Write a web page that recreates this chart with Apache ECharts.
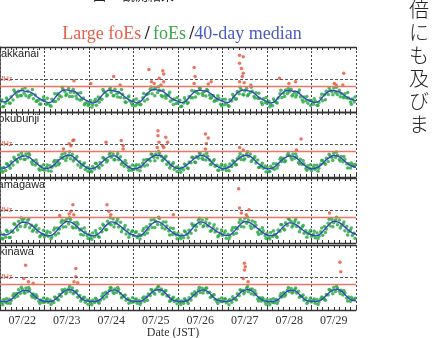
<!DOCTYPE html>
<html><head><meta charset="utf-8">
<script src="https://cdn.jsdelivr.net/npm/echarts@6/dist/echarts.min.js"></script>
<style>html,body{margin:0;padding:0;background:#fff;}#c{width:434px;height:338px;}</style>
</head><body><div id="c"></div>
<script>
const days = ['07/22','07/23','07/24','07/25','07/26','07/27','07/28','07/29'];
const stations = ['Wakkanai','Kokubunji','Yamagawa','Okinawa'];
const thresholdMHz = 8;
const gridMHz = 10;

// 40-day median, every 2 hours from 07/22 00:00 (JST)
const medianWakkanai = [
3.6,3.1,3.4,4.5,5.7,6.4,6.6,6.3,6.2,5.6,4.6,3.9,
3.3,2.9,3.2,4.6,5.9,6.7,6.8,6.5,6.4,5.5,4.4,3.7,
3.2,2.8,3.1,4.4,5.8,6.6,6.7,6.4,6.2,5.3,4.3,3.6,
3.2,2.8,3.3,4.7,6.0,6.8,6.9,6.6,6.3,5.4,4.4,3.7,
3.3,2.9,3.2,4.5,5.8,6.6,6.7,6.5,6.3,5.5,4.5,3.8,
3.3,2.9,3.2,4.6,5.9,6.6,6.8,6.5,6.2,5.3,4.3,3.7,
3.2,2.8,3.1,4.4,5.7,6.5,6.6,6.4,6.3,5.4,4.4,3.7,
3.2,2.9,3.3,4.6,5.8,6.5,6.6,6.3,5.9,5.0,4.3,3.8,3.5];
const medianKokubunji = [
2.8,2.7,3.1,4.1,5.1,5.9,6.4,6.5,6.0,5.0,4.0,3.2,
2.6,2.7,3.2,4.2,5.3,6.1,6.6,6.6,6.0,4.9,3.9,3.1,
2.5,2.6,3.1,4.0,5.1,6.0,6.5,6.5,5.8,4.7,3.7,2.9,
2.5,2.7,3.2,4.3,5.4,6.2,6.7,6.7,6.0,4.9,3.8,3.0,
2.6,2.8,3.3,4.3,5.3,6.1,6.6,6.5,5.8,4.7,3.7,3.0,
2.5,2.7,3.2,4.2,5.3,6.1,6.6,6.6,5.9,4.8,3.8,3.0,
2.5,2.6,3.1,4.1,5.2,6.0,6.5,6.4,5.8,4.7,3.7,2.9,
2.5,2.7,3.2,4.2,5.3,6.1,6.6,6.5,5.8,4.8,3.9,3.3,3.0];
const medianYamagawa = [
2.8,2.5,2.6,3.3,4.5,5.7,6.4,6.4,5.9,5.0,4.0,3.1,
2.5,2.2,2.4,3.4,4.7,5.9,6.6,6.5,5.8,4.8,3.8,3.0,
2.5,2.2,2.4,3.2,4.6,5.8,6.5,6.3,5.6,4.7,3.7,2.9,
2.4,2.1,2.3,3.3,4.7,5.9,6.6,6.4,5.7,4.7,3.7,2.9,
2.4,2.2,2.4,3.3,4.6,5.8,6.5,6.3,5.5,4.7,3.9,3.2,
2.6,2.3,2.5,3.4,4.7,5.9,6.6,6.4,5.8,4.9,4.0,3.1,
2.5,2.3,2.4,3.3,4.5,5.6,6.2,6.1,5.5,4.6,3.7,3.0,
2.5,2.2,2.5,3.5,4.8,6.0,6.7,6.5,5.9,4.9,3.9,3.1,2.7];
const medianOkinawa = [
2.8,2.6,2.7,3.2,4.3,5.3,5.9,6.1,5.7,4.6,3.6,3.0,
2.7,2.6,2.7,3.3,4.4,5.5,6.1,6.3,5.8,4.7,3.5,2.9,
2.7,2.6,2.7,3.2,4.3,5.4,6.0,6.2,5.7,4.6,3.5,2.9,
2.7,2.6,2.7,3.3,4.4,5.5,6.1,6.3,5.8,4.7,3.5,2.9,
2.7,2.6,2.7,3.2,4.3,5.4,6.0,6.2,5.7,4.6,3.5,2.9,
2.7,2.6,2.8,3.3,4.4,5.5,6.1,6.3,5.8,4.7,3.6,2.9,
2.7,2.6,2.7,3.2,4.3,5.4,6.0,6.1,5.6,4.5,3.4,2.8,
2.7,2.6,2.8,3.4,4.5,5.6,6.2,6.4,5.9,4.8,3.6,3.0,2.8];

// hourly foEs from 07/22 00:00 (JST)
const foEsWakkanai = [
3.0,3.7,1.7,2.7,3.7,2.8,4.7,3.7,6.2,5.3,6.4,5.1,7.0,5.8,5.0,6.5,5.1,5.4,4.1,5.2,3.5,3.7,2.5,3.7,
3.6,2.3,2.6,2.0,3.9,3.2,3.2,5.6,5.1,4.7,7.0,6.2,5.5,7.2,6.1,4.8,6.0,4.9,5.8,3.7,3.8,4.3,2.7,3.0,
2.4,3.5,2.3,3.3,2.1,4.6,4.0,3.9,6.4,5.9,5.2,6.9,6.0,5.0,7.0,5.6,6.0,4.5,5.5,4.3,3.0,4.5,3.4,2.6,
3.7,1.9,2.5,3.2,2.3,4.4,3.4,5.4,5.6,6.9,5.6,7.1,7.5,6.0,6.7,5.1,6.7,5.0,5.1,5.3,3.3,3.8,4.0,2.6,
2.8,3.6,1.8,2.8,3.6,2.6,4.8,4.4,4.4,6.4,6.1,5.6,7.3,5.7,6.2,4.9,6.6,5.2,4.4,5.1,3.6,3.6,4.2,2.4,
3.9,2.2,2.7,2.0,3.8,3.4,4.6,3.9,6.3,5.6,6.9,5.4,6.5,7.3,5.4,6.0,6.4,4.8,5.9,4.2,4.2,2.9,4.1,2.9,
2.6,3.3,2.3,1.9,3.5,2.9,4.3,5.6,4.5,5.8,6.8,5.7,6.2,7.0,5.3,6.1,5.3,6.1,4.7,3.7,4.6,3.5,2.7,3.6,
3.5,2.4,3.3,2.1,2.9,4.3,3.5,5.3,6.4,5.4,6.7,6.3,7.4,6.0,5.4,6.7,5.7,4.6,5.6,4.3,4.3,3.1,4.0,3.1];
const foEsKokubunji = [
3.0,2.0,2.9,2.0,3.9,3.4,4.7,3.7,5.5,5.1,6.8,5.6,6.6,5.5,7.1,5.9,6.8,4.6,5.0,3.7,4.3,2.5,3.3,2.4,
2.1,2.9,1.9,3.5,3.0,4.6,3.5,5.1,4.2,6.1,5.7,7.3,5.9,6.8,5.6,7.0,5.4,5.7,3.7,4.7,3.6,4.0,2.3,3.0,
2.8,1.8,3.2,2.5,4.1,3.1,4.5,3.6,5.8,5.4,5.1,7.0,6.1,7.1,5.3,6.5,5.3,6.2,4.5,3.3,4.2,2.9,3.1,2.1,
2.3,3.2,2.2,3.7,3.1,4.2,3.4,5.4,5.4,5.0,6.9,6.1,7.1,5.9,7.3,6.4,5.4,6.0,3.9,4.6,3.4,3.9,2.4,3.0,
3.1,2.2,2.8,2.2,3.8,2.8,4.6,4.4,6.0,4.6,6.2,5.8,7.2,5.8,6.8,5.2,6.4,5.2,4.0,4.9,3.3,3.6,2.1,3.2,
2.2,3.1,2.0,3.1,4.0,3.2,4.8,3.8,5.6,6.3,5.4,6.6,5.6,7.1,6.3,7.1,5.2,5.8,4.3,5.2,3.0,3.5,2.7,3.4,
2.9,1.7,3.3,2.6,2.4,4.1,3.6,5.5,4.8,5.8,5.0,6.8,6.6,5.9,7.1,5.8,6.2,4.5,5.5,3.9,4.0,2.6,3.5,2.6,
2.0,3.0,2.4,3.6,2.7,3.9,5.1,4.3,5.8,4.8,6.5,6.0,7.3,6.0,6.7,5.4,6.3,4.7,5.4,4.1,4.1,2.8,3.8,3.3];
const foEsYamagawa = [
3.2,1.5,2.6,1.8,3.5,1.7,3.7,3.3,5.8,4.9,6.6,5.1,6.9,7.5,5.8,7.0,4.7,5.5,4.0,5.0,3.4,4.4,2.4,2.6,
1.9,2.9,2.1,3.2,1.9,4.0,2.5,4.6,4.3,6.4,4.9,6.8,7.4,5.9,7.2,4.9,6.2,4.7,5.8,4.0,4.3,2.5,3.4,2.3,
2.8,1.7,3.1,1.9,3.0,2.0,4.5,3.5,5.3,4.1,6.7,5.9,5.6,7.4,6.0,6.7,4.9,6.4,4.3,4.6,2.8,4.0,2.7,3.5,
2.2,3.2,1.7,2.6,2.3,3.8,2.6,5.0,4.2,5.8,4.8,7.2,6.7,5.7,7.6,5.6,6.5,4.3,5.2,3.7,4.6,2.6,3.2,2.5,
3.1,1.9,2.5,1.6,3.4,2.6,3.9,3.0,5.4,5.5,5.0,7.0,5.9,7.1,5.3,6.5,5.2,6.1,3.9,4.8,3.4,4.3,2.3,3.1,
2.4,3.1,1.5,2.7,2.0,3.9,2.7,4.8,4.4,6.3,5.1,6.6,7.6,6.1,7.0,5.2,6.8,4.9,5.5,3.3,4.1,2.9,3.8,2.2,
3.0,1.8,3.2,2.0,2.7,2.1,4.0,3.6,5.6,4.3,6.2,5.5,7.2,6.6,5.5,6.6,5.1,6.2,4.3,4.9,3.0,3.8,2.8,3.3,
2.1,2.7,1.6,3.1,2.1,3.5,2.4,5.1,4.3,6.1,5.3,7.3,6.2,7.1,5.6,7.1,5.2,5.8,3.8,5.1,3.5,4.0,2.3,3.0];
const foEsOkinawa = [
3.1,2.2,3.2,2.4,2.1,3.3,2.9,4.4,3.8,5.1,6.2,5.1,6.4,5.3,6.8,5.7,6.2,4.5,4.9,3.6,4.1,2.7,3.1,2.4,
2.4,3.1,2.3,3.1,2.6,2.3,3.8,3.3,4.8,4.2,5.7,6.4,5.5,6.5,5.6,6.8,5.4,5.6,3.9,4.5,3.3,3.8,2.4,3.1,
3.0,2.1,3.0,2.3,3.3,2.5,3.0,4.2,3.5,5.5,5.1,6.1,6.8,5.5,6.5,5.5,6.3,5.0,4.0,4.4,3.0,3.5,3.0,2.4,
2.5,3.2,2.1,2.9,2.3,3.6,2.7,4.0,4.9,4.5,6.1,5.2,6.3,7.0,5.8,6.5,4.9,5.8,4.3,4.5,2.9,3.6,2.6,3.0,
3.3,2.4,2.8,2.1,3.1,2.7,3.8,3.1,4.6,5.6,4.9,6.2,5.4,6.7,6.0,6.7,5.3,5.5,4.1,4.6,3.2,2.6,3.3,2.6,
2.6,3.3,2.2,2.8,3.2,2.4,3.5,3.4,5.0,4.4,6.0,6.0,5.6,6.8,5.6,6.4,6.5,4.7,5.0,3.4,3.8,2.8,3.4,2.5,
3.2,2.3,3.2,2.3,2.2,3.2,2.8,4.3,4.0,5.4,4.8,6.1,5.7,6.6,5.5,6.3,5.2,5.8,4.2,4.2,3.0,3.7,2.5,3.1,
2.5,3.0,2.1,3.2,2.5,3.4,3.8,3.3,4.8,4.6,6.1,5.9,6.9,5.7,6.8,5.8,6.1,4.6,5.3,3.7,4.0,2.7,3.2,3.2];

// extra foEs soundings at 01:30, 03:30, ... 23:30 each day
const foEsWakkanaiHalf = [
1.6,4.3,2.7,6.8,4.7,5.0,7.4,4.5,6.9,3.2,2.4,4.6,
4.2,1.8,5.6,4.0,7.6,5.1,4.8,7.0,4.1,5.9,2.2,2.0,
1.5,3.9,3.0,6.9,4.9,7.5,5.0,4.6,6.9,3.1,4.9,2.1,
4.0,2.2,5.7,3.9,7.7,5.0,7.8,4.7,4.2,6.1,2.3,4.4,
1.7,4.4,2.9,6.6,4.6,7.4,5.1,6.9,4.2,3.2,5.0,1.9,
3.9,1.8,5.4,4.1,7.6,5.2,5.0,7.6,4.3,5.8,2.3,4.5,
1.6,4.0,2.8,6.7,4.8,7.2,4.9,4.6,6.8,3.1,4.8,2.0,
4.1,2.0,5.5,3.8,7.5,5.3,7.6,4.7,4.4,6.0,2.4,4.6];
const foEsKokubunjiHalf = [
1.5,4.1,2.7,6.1,4.6,7.5,5.4,7.3,3.9,5.2,2.1,3.8,
3.7,1.8,5.1,3.8,7.0,5.1,7.8,4.9,6.3,2.9,4.3,1.8,
1.6,4.2,2.8,6.0,4.6,7.6,5.3,7.2,3.9,5.1,2.0,3.7,
3.8,1.9,5.2,3.7,7.1,5.0,7.9,5.0,6.4,2.8,4.4,1.7,
1.5,4.0,2.6,6.1,4.5,7.4,5.4,7.3,3.8,5.3,2.1,3.9,
3.7,1.9,5.0,3.8,7.2,5.2,7.8,4.8,6.2,2.9,4.2,1.6,
1.7,4.1,2.8,5.9,4.7,7.5,5.3,7.1,4.0,5.0,2.1,3.8,
3.6,1.8,5.1,3.9,7.0,5.1,7.7,4.9,6.3,2.8,4.3,3.9];
const foEsYamagawaHalf = [
1.2,3.9,1.7,5.9,4.0,7.7,5.0,7.5,3.6,5.5,1.9,3.9,
3.6,1.3,4.6,3.0,7.0,5.0,7.8,4.6,6.4,2.6,4.6,1.4,
1.1,3.8,1.8,5.8,4.1,7.8,4.9,7.4,3.5,5.4,1.8,3.8,
3.5,1.2,4.5,3.1,7.1,4.8,7.9,4.7,6.5,2.5,4.5,1.3,
1.3,3.7,1.6,5.9,3.9,7.6,5.0,7.5,3.6,5.6,1.9,4.0,
3.7,1.2,4.7,3.0,7.2,4.9,8.0,4.5,6.4,2.6,4.7,1.4,
1.2,3.8,1.7,5.7,4.0,7.5,4.9,7.3,3.5,5.4,1.8,3.9,
3.6,1.3,4.6,3.2,7.3,5.0,7.9,4.6,6.5,2.5,4.6,1.5];
const foEsOkinawaHalf = [
1.6,3.5,2.0,5.0,4.2,7.0,5.2,6.9,3.9,4.7,2.0,3.7,
3.5,1.7,4.0,3.1,6.2,5.0,7.2,5.0,5.9,2.8,3.9,1.8,
1.6,3.6,2.1,5.1,4.1,6.9,5.1,6.9,3.8,4.6,2.1,3.8,
3.4,1.7,4.0,3.0,6.3,4.9,7.3,4.9,6.0,2.7,3.9,1.9,
1.7,3.5,2.0,5.0,4.3,7.0,5.2,6.8,3.9,4.7,2.0,3.7,
3.5,1.6,4.1,3.1,6.2,5.0,7.2,5.0,5.9,2.8,3.8,1.8,
1.6,3.5,2.0,5.1,4.2,6.9,5.2,6.8,3.9,4.6,2.0,3.7,
3.4,1.7,4.0,3.0,6.3,5.0,7.4,5.0,6.0,2.8,3.9,3.6];

// large foEs events: [hours from 07/22 00:00, MHz]
const largeWakkanai = [[39.9,9.6],[49,8.8],[61.3,10.9],[64.8,8.3],[80.3,13.1],[81.7,9.3],[83.2,8.8],[85.9,10.4],[87.8,12.7],[88.3,11.7],[88.3,9.3],[86.8,8.3],[104.7,13.7],[105.2,10.9],[104.7,8.8],[112.3,8.6],[113.9,9.3],[129.2,17.5],[131.2,17.0],[129.2,15.0],[130.2,13.4],[131.2,11.9],[130.7,10.9],[129.2,9.3],[131.7,9.0],[135.3,8.3],[150.7,10.4],[155.8,8.8],[159.4,9.3],[180.3,8.8],[185.4,11.9],[184.9,8.3],[181.3,8.3]];
const largeKokubunji = [[34.2,8.6],[37.3,10.2],[39.3,11.2],[39.8,11.4],[38.3,9.6],[57.2,10.7],[65.4,11.2],[66.4,9.6],[66.4,8.6],[85.2,14.2],[85.2,12.7],[85.8,10.7],[87.8,9.6],[89.4,12.2],[90.4,10.7],[88.3,9.1],[84.8,9.1],[110.8,13.2],[112.3,12.0],[111.3,10.2],[110.8,8.6],[129.2,9.1],[131.2,8.3],[162.4,11.7],[159.9,8.3]];
const largeYamagawa = [[32.2,8.5],[39.3,11.8],[38.3,9.8],[39.8,8.7],[37.3,8.9],[57.7,11.8],[58.7,9.8],[59.8,8.7],[93.5,8.7],[128.7,16.7],[129.2,10.8],[130.2,9.2],[132.8,8.7],[134.3,10.2],[177.7,9.2]];
const largeOkinawa = [[13.8,13.8],[12.8,9.7],[15.3,8.7],[17.9,8.2],[40.9,12.8],[40.9,10.2],[39.9,8.7],[41.9,8.4],[131.8,14.4],[132.3,13.3],[131.8,12.3],[131.2,9.7],[133.8,8.7],[183.3,14.7],[183.8,11.8]];

const medians = [medianWakkanai, medianKokubunji, medianYamagawa, medianOkinawa];
const foEsAll = [foEsWakkanai, foEsKokubunji, foEsYamagawa, foEsOkinawa];
const foEsHalfAll = [foEsWakkanaiHalf, foEsKokubunjiHalf, foEsYamagawaHalf, foEsOkinawaHalf];
const largeAll = [largeWakkanai, largeKokubunji, largeYamagawa, largeOkinawa];

const RED = '#e8503a', GREEN = '#22a83e', BLUE = '#3446bc';
const panelTops = [47, 112, 178, 245];
const panelH = 65;
const hoursTotal = days.length * 24;

const grids = [], xAxes = [], yAxes = [], series = [], graphics = [];
panelTops.forEach((top, i) => {
  grids.push({left: -20, right: 78, top: top, height: panelH});
  const tickBase = {
    gridIndex: i, type: 'value', min: 0, max: hoursTotal, interval: 24,
    axisLine: {show: true, lineStyle: {color: '#333', width: 1.3}},
    axisTick: {show: true, inside: true, length: 3, lineStyle: {color: '#333'}},
    minorTick: {show: true, splitNumber: 8, length: 3, lineStyle: {color: '#333'}},
    axisLabel: {show: false}
  };
  xAxes.push(Object.assign({}, tickBase, {position: 'bottom',
    splitLine: {show: true, lineStyle: {color: '#444', type: [2, 2], width: 1}}}));
  xAxes.push(Object.assign({}, tickBase, {position: 'top', splitLine: {show: false}}));
  yAxes.push({gridIndex: i, type: 'value', min: 0, max: 20, interval: 5, position: 'right',
    axisLine: {show: true, lineStyle: {color: '#444', width: 1.5}},
    axisTick: {show: true, inside: true, length: 4, lineStyle: {color: '#444'}},
    axisLabel: {show: false}, splitLine: {show: false}});
  series.push({type: 'scatter', xAxisIndex: i * 2, yAxisIndex: i, z: 2,
    data: foEsAll[i].map((v, k) => [k, v]), symbolSize: 3.5,
    itemStyle: {color: GREEN}});
  series.push({type: 'scatter', xAxisIndex: i * 2, yAxisIndex: i, z: 2,
    data: foEsHalfAll[i].map((v, k) => [k * 2 + 1.5, v]), symbolSize: 3.5,
    itemStyle: {color: GREEN}});
  series.push({type: 'line', xAxisIndex: i * 2, yAxisIndex: i, z: 3,
    data: medians[i].map((v, k) => [k * 2, v]), smooth: 0.3, showSymbol: false,
    lineStyle: {color: BLUE, width: 1.4},
    markLine: {silent: true, symbol: 'none', label: {show: false}, animation: false,
      data: [
        {yAxis: thresholdMHz, lineStyle: {color: '#ef7565', type: 'solid', width: 1.3}},
        {yAxis: gridMHz, lineStyle: {color: '#555', type: [3, 2], width: 1}}
      ]}});
  series.push({type: 'scatter', xAxisIndex: i * 2, yAxisIndex: i, z: 4,
    data: largeAll[i], symbolSize: 3.5, itemStyle: {color: RED}});
  graphics.push({type: 'text', left: -9, top: top + 1,
    style: {text: stations[i], font: '11px "Liberation Sans", Arial, sans-serif', fill: '#222'}});
  graphics.push({type: 'text', left: -6, top: top + 29,
    style: {text: '8MHz', font: '7px "Liberation Sans", Arial, sans-serif', fill: RED}});
});
// date labels (centred on each day)
xAxes.push({gridIndex: 3, type: 'category', data: days, boundaryGap: true, position: 'bottom',
  axisLine: {show: false}, axisTick: {show: false}, splitLine: {show: false},
  axisLabel: {show: true, margin: 5, fontFamily: '"Liberation Serif", serif', fontSize: 12, color: '#333'}});

graphics.push({type: 'text', x: 173, y: 333,
  style: {text: 'Date (JST)', font: '12px "Liberation Serif", serif', fill: '#333', align: 'center', verticalAlign: 'middle'}});
graphics.push({type: 'text', x: 182, y: 34,
  style: {text: '{r|Large foEs} {k|/} {g|foEs} {k|/}{b|40-day median}', align: 'center', verticalAlign: 'middle',
    rich: {
      r: {fill: '#e8604a', font: '18px "Liberation Serif", serif'},
      g: {fill: '#3aa845', font: '18px "Liberation Serif", serif'},
      b: {fill: '#4a5cc0', font: '18px "Liberation Serif", serif'},
      k: {fill: '#222', font: 'bold 18px "Liberation Serif", serif'}
    }}});
graphics.push({type: 'text', x: 93, y: -5,
  style: {text: '図　 観測結果', font: '13px "Noto Sans CJK JP", sans-serif', fill: '#222', verticalAlign: 'middle'}});
graphics.push({type: 'text', x: 419, y: -2,
  style: {text: '倍\nに\nも\n及\nび\nま', font: '300 20px "Noto Sans CJK JP", sans-serif', lineHeight: 23,
    fill: '#222', align: 'center', verticalAlign: 'top'}});

const chart = echarts.init(document.getElementById('c'), null, {renderer: 'canvas'});
chart.setOption({
  animation: false,
  backgroundColor: '#fff',
  grid: grids, xAxis: xAxes, yAxis: yAxes, series: series, graphic: graphics
});
</script></body></html>
